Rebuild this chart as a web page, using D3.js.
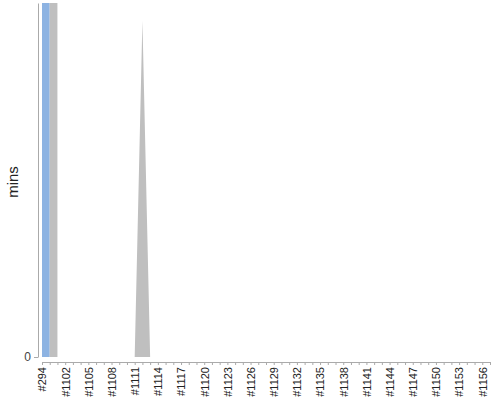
<!DOCTYPE html>
<html>
<head>
<meta charset="utf-8">
<script src="https://cdn.jsdelivr.net/npm/d3@7"></script>
<style>
  body { margin: 0; background: #fff; }
  text { font-family: Arial, "Liberation Sans", sans-serif; }
</style>
</head>
<body>
<div class="canvas"></div>
<script>
// builds, first one is the odd old build
const builds = ["#294",
  "#1100","#1101","#1102","#1103","#1104","#1105","#1106","#1107","#1108","#1109",
  "#1110","#1111","#1112","#1113","#1114","#1115","#1116","#1117","#1118","#1119",
  "#1120","#1121","#1122","#1123","#1124","#1125","#1126","#1127","#1128","#1129",
  "#1130","#1131","#1132","#1133","#1134","#1135","#1136","#1137","#1138","#1139",
  "#1140","#1141","#1142","#1143","#1144","#1145","#1146","#1147","#1148","#1149",
  "#1150","#1151","#1152","#1153","#1154","#1155","#1156","#1157"];

// minutes per build, two stacked series (first build is way off the chart)
const blueMins = [20000,
  0,0,0,0,0,0,0,0,0,0,
  0,0,0,0,0,0,0,0,0,0,
  0,0,0,0,0,0,0,0,0,0,
  0,0,0,0,0,0,0,0,0,0,
  0,0,0,0,0,0,0,0,0,0,
  0,0,0,0,0,0,0,0];
const grayMins = [20000,
  20000,0,0,0,0,0,0,0,0,0,
  0,0,57,0,0,0,0,0,0,0,
  0,0,0,0,0,0,0,0,0,0,
  0,0,0,0,0,0,0,0,0,0,
  0,0,0,0,0,0,0,0,0,0,
  0,0,0,0,0,0,0,0];
const yMax = 60;
const yTicks = [0];

const width = 500, height = 400;
const plotLeft = 42, plotRight = 490, plotTop = 3, plotBottom = 357;
const axisY = 362, axisX = 38;

const svg = d3.select(".canvas").append("svg")
  .attr("width", width).attr("height", height);

let rows = builds.map((b, i) => ({ build: b, blue: blueMins[i], gray: grayMins[i] }));
let stacked = d3.stack().keys(["blue", "gray"])(rows);

let xScale = d3.scalePoint().domain(builds).range([plotLeft, plotRight]);
let yScale = d3.scaleLinear().domain([0, yMax]).range([plotBottom, plotTop]);

const colors = { blue: "#8db3e2", gray: "#bfbfbf" };

svg.append("clipPath").attr("id", "plot")
  .append("rect")
  .attr("x", plotLeft).attr("y", plotTop)
  .attr("width", plotRight - plotLeft).attr("height", plotBottom - plotTop);

let area = d3.area()
  .x((d) => xScale(d.data.build))
  .y0((d) => yScale(d[0]))
  .y1((d) => yScale(d[1]));

svg.append("g").attr("clip-path", "url(#plot)")
  .selectAll("path")
  .data(stacked)
  .join("path")
  .attr("fill", (s) => colors[s.key])
  .attr("d", area);

// x axis, sitting a few px under the plot
let xAxis = svg.append("g")
  .attr("transform", `translate(0,${axisY})`)
  .call(d3.axisBottom(xScale).tickSize(3).tickSizeOuter(0)
    .tickFormat((d, i) => (i % 3 === 0 ? d : "")));
xAxis.select(".domain").attr("stroke", "#aaa");
xAxis.selectAll(".tick line").attr("stroke", "#aaa");
xAxis.selectAll("text")
  .attr("transform", "rotate(-90)")
  .attr("text-anchor", "end")
  .attr("x", -5)
  .attr("y", 0)
  .attr("dy", "0.35em")
  .style("font-size", "11px")
  .attr("fill", "#222");

// y axis, only the zero tick
let yAxis = svg.append("g")
  .attr("transform", `translate(${axisX},0)`)
  .call(d3.axisLeft(yScale).tickValues(yTicks).tickSize(4).tickSizeOuter(0));
yAxis.select(".domain").attr("stroke", "#aaa");
yAxis.selectAll(".tick line").attr("stroke", "#aaa");
yAxis.selectAll("text")
  .style("font-size", "12px")
  .attr("fill", "#444")
  .attr("x", -7);

svg.append("text")
  .attr("transform", `translate(18,${(plotTop + plotBottom) / 2 + 2}) rotate(-90)`)
  .attr("text-anchor", "middle")
  .style("font-size", "15px")
  .attr("fill", "#222")
  .text("mins");
</script>
</body>
</html>
